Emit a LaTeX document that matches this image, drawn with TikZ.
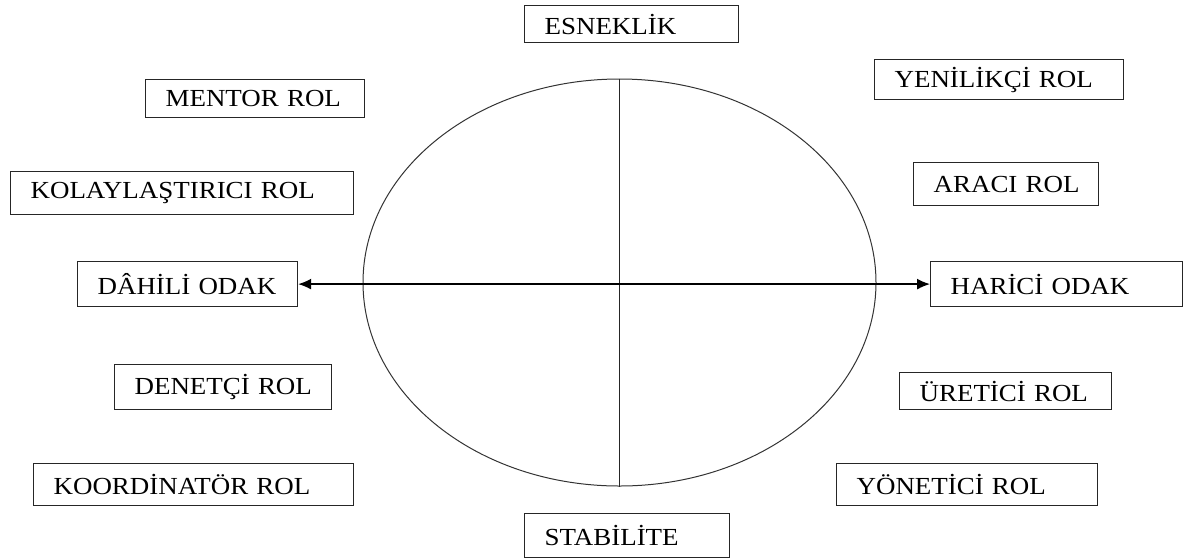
\documentclass[tikz,border=0pt]{standalone}
\usepackage{fontspec}
\setmainfont{Liberation Serif}[FakeStretch=1.1]
\usetikzlibrary{shapes.geometric,arrows.meta}

\tikzset{
  rolbox/.style={draw=black!85, line width=1.2pt, rectangle, anchor=north west,
    align=left, inner xsep=20pt, inner ysep=0pt,
    font=\fontsize{24.5}{28}\selectfont,
    execute at begin node=\hbox\bgroup, execute at end node=\egroup},
}

\begin{document}
\begin{tikzpicture}[x=1pt,y=-1pt]
\useasboundingbox (0,0) rectangle (1184,558);

% the two axes of the model
\node[draw=black!80, line width=1pt, ellipse, minimum width=513pt, minimum height=407pt, inner sep=0pt] (model) at (619.5,282.5) {};

\node[rolbox, text width=174pt, minimum height=37pt] (esnek) at (524,5) {ESNEKLİK};
\node[rolbox, text width=165pt, minimum height=44pt] (stabil) at (524,513) {STABİLİTE};
\node[rolbox, text width=180pt, minimum height=45pt] (dahili) at (77,261) {DÂHİLİ ODAK};
\node[rolbox, text width=212pt, minimum height=45pt] (harici) at (930,261) {HARİCİ ODAK};

% roles on the left
\node[rolbox, text width=179pt, minimum height=38pt] (mentor) at (145,79) {MENTOR ROL};
\node[rolbox, text width=303pt, minimum height=43pt] (kolay) at (10,171) {KOLAYLAŞTIRICI ROL};
\node[rolbox, text width=177pt, minimum height=45pt] (denetci) at (114,364) {DENETÇİ ROL};
\node[rolbox, text width=280pt, minimum height=42pt] (koord) at (33,463) {KOORDİNATÖR ROL};

% roles on the right
\node[rolbox, text width=209pt, minimum height=40pt] (yenilik) at (874,59) {YENİLİKÇİ ROL};
\node[rolbox, text width=145pt, minimum height=43pt] (araci) at (913,162) {ARACI ROL};
\node[rolbox, text width=172pt, minimum height=37pt] (uretici) at (899,372) {ÜRETİCİ ROL};
\node[rolbox, text width=221pt, minimum height=42pt] (yonetici) at (836,463) {YÖNETİCİ ROL};

\draw[line width=1.3pt, black!85] (model.north) -- (model.south);
\draw[<->, >={Latex[length=13pt,width=11pt]}, line width=1.4pt] (dahili) -- (harici);
\end{tikzpicture}
\end{document}
